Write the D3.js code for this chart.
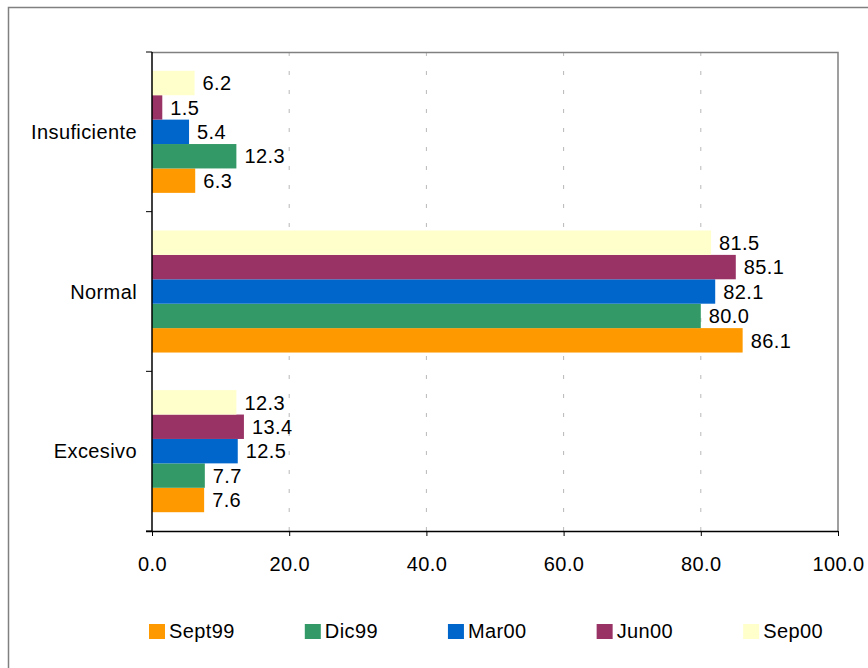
<!DOCTYPE html>
<html>
<head>
<meta charset="utf-8">
<script src="https://cdn.jsdelivr.net/npm/d3@7"></script>
<style>
  body { margin: 0; background: #fff; }
  text { font-family: "Liberation Sans", Arial, sans-serif; font-size: 20px; letter-spacing: 0.4px; fill: #000; }
</style>
</head>
<body>
<div id="chart"></div>
<script>
// ===========================================================
// DATA
// ===========================================================
var categories = ["Insuficiente", "Normal", "Excesivo"];
var seriesNames = ["Sept99", "Dic99", "Mar00", "Jun00", "Sep00"];
var seriesColors = ["#FF9900", "#339966", "#0066CC", "#993366", "#FFFFCC"];
var sept99 = [6.3, 86.1, 7.6];
var dic99 = [12.3, 80.0, 7.7];
var mar00 = [5.4, 82.1, 12.5];
var jun00 = [1.5, 85.1, 13.4];
var sep00 = [6.2, 81.5, 12.3];
var xTicks = [0, 20, 40, 60, 80, 100];

var seriesValues = [sept99, dic99, mar00, jun00, sep00];

// ===========================================================
// SET MARGINS
// ===========================================================
var svgWidth = 868;
var svgHeight = 668;

var margin = { top: 52, right: 30, bottom: 137, left: 152 };
var width = svgWidth - margin.left - margin.right;
var height = svgHeight - margin.top - margin.bottom;

var svg = d3.select('#chart')
    .append('svg')
    .attr('width', svgWidth)
    .attr('height', svgHeight);

// outer frame
svg.append('rect')
    .attr('x', 8.5).attr('y', 7.5)
    .attr('width', svgWidth).attr('height', svgHeight)
    .attr('fill', 'none')
    .attr('stroke', '#808080')
    .attr('stroke-width', 1.5);

var chartGroup = svg.append('g')
    .attr('transform', `translate(${margin.left}, ${margin.top})`);

// ===========================================================
// SCALES
// ===========================================================
var x = d3.scaleLinear()
    .domain([0, 100])
    .range([0, width]);

var y = d3.scaleBand()
    .domain(categories)
    .range([0, height]);

// top bar is Sep00, bottom is Sept99
var ySeries = d3.scaleBand()
    .domain(seriesNames.slice().reverse())
    .range([0, y.bandwidth()])
    .paddingOuter(0.77)
    .paddingInner(0);

// ===========================================================
// GRID + FRAME
// ===========================================================
chartGroup.append('g')
    .selectAll('line')
    .data(xTicks.slice(1, -1))
    .enter()
    .append('line')
    .attr('x1', d => x(d)).attr('x2', d => x(d))
    .attr('y1', 0).attr('y2', height)
    .attr('stroke', '#b8b8b8')
    .attr('stroke-dasharray', '4,15');

chartGroup.append('path')
    .attr('d', `M0,0.5H${width}V${height}`)
    .attr('fill', 'none')
    .attr('stroke', '#808080')
    .attr('stroke-width', 1.5);

// ===========================================================
// BARS
// ===========================================================
var rows = [];
categories.forEach(function(c, i) {
    seriesNames.forEach(function(s, j) {
        rows.push({ cat: c, series: s, value: seriesValues[j][i], color: seriesColors[j] });
    });
});

chartGroup.append('g')
    .selectAll('rect')
    .data(rows)
    .enter()
    .append('rect')
    .attr('x', 0)
    .attr('y', d => y(d.cat) + ySeries(d.series))
    .attr('width', d => x(d.value))
    .attr('height', ySeries.bandwidth())
    .attr('fill', d => d.color);

chartGroup.append('g')
    .selectAll('text')
    .data(rows)
    .enter()
    .append('text')
    .attr('x', d => x(d.value) + 8)
    .attr('y', d => y(d.cat) + ySeries(d.series) + ySeries.bandwidth() / 2)
    .attr('dy', '0.36em')
    .text(d => d.value.toFixed(1));

// ===========================================================
// AXES
// ===========================================================
var xAxis = chartGroup.append('g')
    .attr('transform', `translate(0, ${height})`)
    .call(d3.axisBottom(x).tickValues(xTicks).tickSize(5).tickPadding(21).tickFormat(d3.format('.1f')));
xAxis.select('.domain').attr('d', `M-6,0.5H${width}`).attr('stroke', '#000').attr('stroke-width', 1.5);
xAxis.selectAll('text').attr('font-family', null).attr('font-size', null);

// y axis line with ticks at category boundaries
var boundaries = categories.map(c => y(c)).concat([height]);
chartGroup.append('line')
    .attr('x1', 0).attr('x2', 0)
    .attr('y1', 0).attr('y2', height)
    .attr('stroke', '#000')
    .attr('stroke-width', 1.5);
chartGroup.append('g')
    .selectAll('line')
    .data(boundaries)
    .enter()
    .append('line')
    .attr('x1', -6).attr('x2', 0)
    .attr('y1', d => d).attr('y2', d => d)
    .attr('stroke', '#000');

chartGroup.append('g')
    .selectAll('text')
    .data(categories)
    .enter()
    .append('text')
    .attr('x', -15)
    .attr('y', d => y(d) + y.bandwidth() / 2)
    .attr('dy', '0.36em')
    .attr('text-anchor', 'end')
    .text(d => d);

// ===========================================================
// LEGEND
// ===========================================================
var legend = svg.append('g')
    .attr('transform', 'translate(149, 624)');
var lx = 0;
seriesNames.forEach(function(s, j) {
    var item = legend.append('g').attr('transform', `translate(${lx}, 0)`);
    item.append('rect')
        .attr('width', 16).attr('height', 15)
        .attr('fill', seriesColors[j]);
    var t = item.append('text')
        .attr('x', 20)
        .attr('y', 14)
        .text(s);
    lx += 20 + t.node().getComputedTextLength() + 70;
});
</script>
</body>
</html>
